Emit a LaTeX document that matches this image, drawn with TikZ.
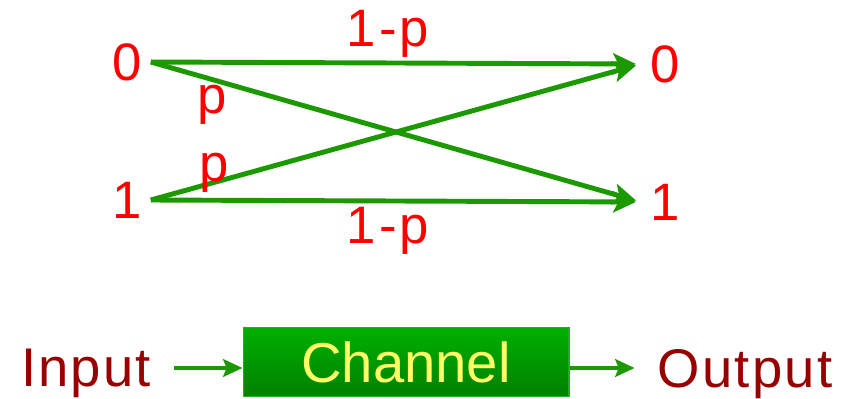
\documentclass[tikz,border=0pt]{standalone}
\usepackage{fontspec}
\setmainfont{Liberation Sans}
\newfontfamily\widesans[LetterSpace=6.0]{Liberation Sans}
\newfontfamily\wordsans[LetterSpace=4.0]{Liberation Sans}
\usetikzlibrary{arrows.meta}
\definecolor{linegreen}{RGB}{28,152,0}
\definecolor{digitred}{RGB}{255,0,0}
\definecolor{wordred}{RGB}{153,0,0}
\definecolor{boxtop}{RGB}{0,176,0}
\definecolor{boxbot}{RGB}{0,128,0}
\definecolor{boxedge}{RGB}{40,170,40}
\definecolor{chanyellow}{RGB}{255,255,102}

\tikzset{
  sym/.style={text=digitred, font=\widesans\fontsize{30}{32}\selectfont, inner sep=5pt},
  prob/.style={text=digitred, font=\widesans\fontsize{30}{32}\selectfont, inner sep=2pt},
  link/.style={draw=linegreen, line width=2.8pt, shorten >=3pt,
    -{Stealth[length=13pt,width=12pt,inset=3pt]}},
  word/.style={text=wordred, font=\wordsans\fontsize{31}{33}\selectfont,
    text depth=0pt, inner sep=13pt},
  chanbox/.style={draw=boxedge, line width=0.6pt, top color=boxtop, bottom color=boxbot,
    text=chanyellow, font=\fontsize{32}{34}\selectfont,
    minimum width=6.52cm, minimum height=1.38cm},
  flow/.style={draw=linegreen, line width=2.4pt,
    -{Stealth[length=11pt,width=10pt,inset=2pt]}},
}

\begin{document}
\begin{tikzpicture}[x=0.02cm,y=-0.02cm]
\useasboundingbox (0,0) rectangle (842,399);

\node[sym] (a0) at (127,62) {0};
\node[sym] (a1) at (127,200) {1};
\node[sym] (b0) at (665,64) {0};
\node[sym] (b1) at (665,202) {1};

\draw[link] (a0.east) -- (b0.west) node[prob, midway, above, xshift=-4.5pt] {1-p};
\draw[link] (a1.east) -- (b1.west) node[prob, midway, below, xshift=-4.5pt] {1-p};
\draw[link] (a0.east) -- (b1.west) node[prob, pos=0.126, below] {p};
\draw[link] (a1.east) -- (b0.west) node[prob, pos=0.13, yshift=5.6pt] {p};

% channel block
\node[chanbox] (chan) at (406,362) {Channel};
\node[word] (inp) at (86,368) {Input};
\node[word] (outp) at (745,368) {Output};

\draw[flow] (inp.east) -- (inp.east -| chan.west);
\draw[flow] (chan.east |- outp.west) -- (outp.west);
\end{tikzpicture}
\end{document}
